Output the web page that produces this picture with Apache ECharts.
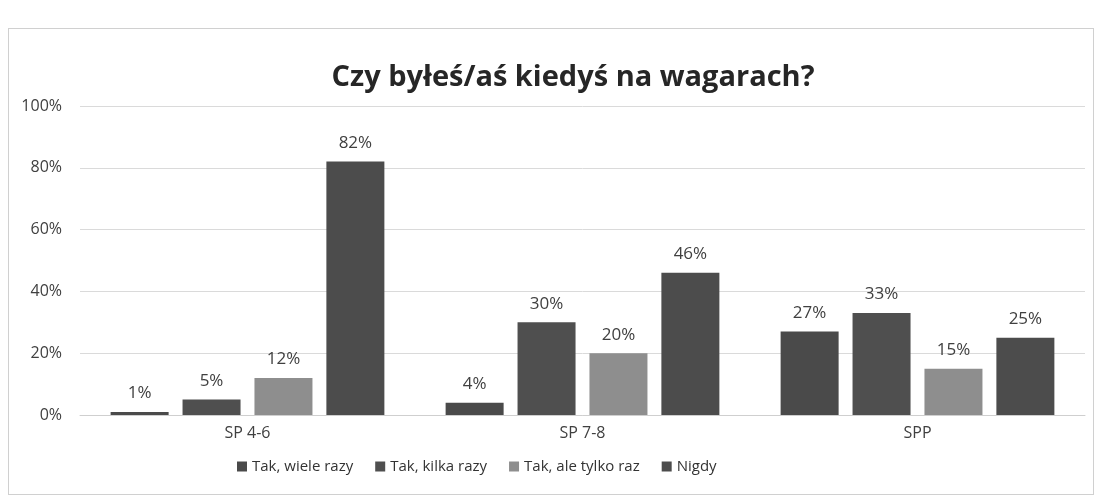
<!DOCTYPE html>
<html><head><meta charset="utf-8">
<script src="https://cdn.jsdelivr.net/npm/echarts@6/dist/echarts.min.js"></script>
<style>
html,body{margin:0;padding:0;background:#fff;}
#frame{position:absolute;left:8px;top:28px;width:1086px;height:467px;border:1px solid #d0d0d0;box-sizing:border-box;}
#c{position:absolute;left:0;top:0;width:1101px;height:504px;}
</style></head>
<body><div id="frame"></div><div id="c"></div>
<script>
const categories = ['SP 4-6', 'SP 7-8', 'SPP'];
const seriesNames = ['Tak, wiele razy', 'Tak, kilka razy', 'Tak, ale tylko raz', 'Nigdy'];
const wieleRazy = [1, 4, 27];
const kilkaRazy = [5, 30, 33];
const tylkoRaz = [12, 20, 15];
const nigdy = [82, 46, 25];
const yTicks = [0, 20, 40, 60, 80, 100];

const colors = ['#4a4a4a', '#4f4f4f', '#8e8e8e', '#4c4c4c'];
const font = "'Open Sans',sans-serif";
const data = [wieleRazy, kilkaRazy, tylkoRaz, nigdy];

const chart = echarts.init(document.getElementById('c'));
chart.setOption({
  animation: false,
  title: {
    text: 'Czy byłeś/aś kiedyś na wagarach?',
    left: 568, top: 58, textAlign: 'center',
    textStyle: {fontFamily: font, fontSize: 29, fontWeight: 'bold', color: '#262626'}
  },
  legend: {
    data: seriesNames,
    bottom: 25, left: 232,
    itemWidth: 10, itemHeight: 10, itemGap: 22,
    icon: 'rect',
    textStyle: {fontFamily: font, fontSize: 15, color: '#333'}
  },
  grid: {left: 80, right: 16, top: 106, bottom: 89},
  xAxis: {
    type: 'category', data: categories,
    axisLine: {lineStyle: {color: '#cfcfcf'}},
    axisTick: {show: false},
    axisLabel: {fontFamily: font, fontSize: 16, color: '#404040', margin: 10}
  },
  yAxis: {
    type: 'value', min: 0, max: 100, interval: 20,
    axisLabel: {fontFamily: font, fontSize: 16, color: '#404040', formatter: v => v + '%', margin: 18},
    splitLine: {lineStyle: {color: '#dadada'}},
    axisLine: {show: false}, axisTick: {show: false}
  },
  series: seriesNames.map((n, i) => ({
    name: n, type: 'bar', data: data[i],
    barWidth: 58, barGap: '24%',
    itemStyle: {color: colors[i]},
    label: {show: true, position: 'top', distance: 10, formatter: p => p.value + '%',
      fontFamily: font, fontSize: 17, color: '#404040'}
  }))
});
</script></body></html>
